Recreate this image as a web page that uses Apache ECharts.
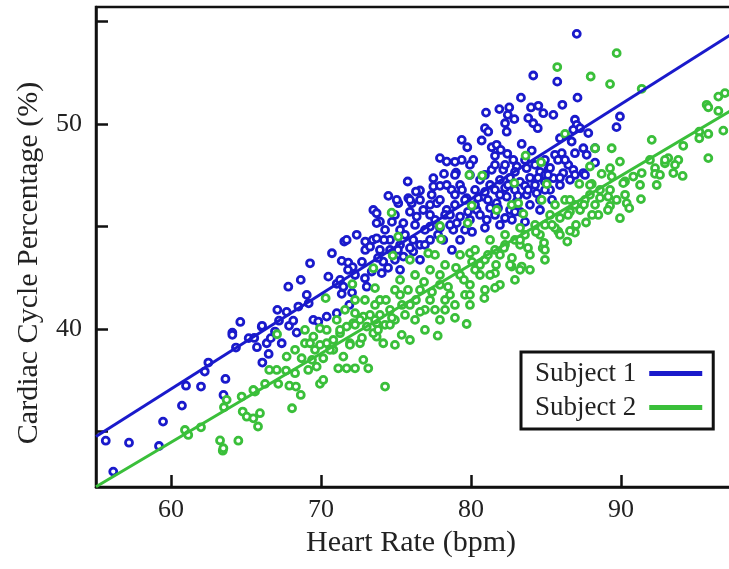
<!DOCTYPE html>
<html><head><meta charset="utf-8">
<script src="https://cdn.jsdelivr.net/npm/echarts@6/dist/echarts.min.js"></script>
<style>html,body{margin:0;padding:0;background:#fff}#c{width:729px;height:569px}</style>
</head><body><div id="c"></div>
<script>
const xTicks = [60, 70, 80, 90];
const yTicks = [35, 40, 45, 50, 55];
const yLabels = [40, 50];
const seriesNames = ['Subject 1', 'Subject 2'];
const fitX = [55, 100];
const fit1 = [34.75, 55.6];
const fit2 = [32.3, 51.81];
const subject1 = [
[55.65,34.55],[57.2,34.45],[59.2,34.29],[56.15,33.04],[59.47,35.48],[60.73,36.26],[61.0,37.23],[62.0,37.19],[63.5,36.78],[63.63,37.56],[62.25,37.92],[62.49,38.36],[64.33,39.09],[64.09,39.82],[64.09,39.71],[64.62,40.34],[65.18,39.55],[65.55,39.56],[65.73,39.11],[66.05,40.10],[66.09,38.36],[66.38,39.30],[66.51,38.78],[66.65,39.55],[66.93,39.87],[67.09,40.93],[67.2,40.40],[67.38,39.30],[67.71,40.83],[67.82,42.06],[67.87,40.15],[68.15,40.40],[68.38,39.82],[68.49,41.09],[68.65,42.39],[69.05,41.66],[69.18,41.25],[69.27,43.20],[69.49,40.44],[69.82,40.36],[70.38,40.6],[70.49,42.55],[66.07,40.15],[70.73,43.69],[71.05,42.2],[71.38,41.71],[71.49,42.06],[71.38,43.32],[71.55,44.26],[71.71,44.34],[71.82,43.23],[72.11,43.01],[71.89,41.17],[72.38,44.59],[72.95,44.26],[72.95,43.85],[73.27,44.01],[73.45,44.34],[73.71,44.42],[73.49,45.80],[73.71,45.64],[72.93,42.47],[73.05,42.06],[73.93,45.23],[72.07,41.77],[71.05,40.77],
[84.15,52.36],[83.33,51.28],[81.0,50.55],[81.89,50.72],[82.55,50.80],[82.45,50.44],[82.89,50.23],[82.27,50.03],[82.38,49.62],[84.0,50.80],[84.49,50.88],[84.82,50.52],[83.82,50.28],[84.15,50.03],[84.45,49.79],[80.93,49.79],[81.15,49.62],[80.71,49.19],[81.38,48.86],[81.71,48.98],[81.98,48.73],[81.6,48.44],[82.42,48.54],[83.38,49.02],[84.05,48.70],[79.38,49.22],[79.75,48.86],[77.93,48.33],[78.38,48.16],[79.38,48.24],[80.15,48.24],[79.0,47.62],[78.2,47.56],[77.49,47.35],[75.78,47.19],[77.49,46.95],[77.93,46.98],[78.38,47.02],[78.71,46.78],[76.6,46.75],[76.33,46.70],[74.49,46.49],[75.82,46.38],[76.05,46.13],[75.15,46.13],[77.38,46.54],[81.38,47.76],[82.15,47.76],[82.82,48.24],[83.05,47.92],[83.71,47.84],
[73.71,45.16],[73.38,42.80],[74.15,43.28],[74.05,42.72],[75.05,46.29],[75.93,46.29],[76.38,45.48],[75.49,45.16],[76.15,44.34],[75.49,43.53],[76.15,43.77],[74.6,43.85],[75.27,42.88],[76.82,45.80],[77.71,46.13],[78.38,45.80],[79.27,45.48],[78.82,44.83],[77.27,44.99],[78.15,44.34],[79.71,46.38],[80.38,45.80],[81.05,45.32],[80.82,46.45],[81.71,46.13],[82.38,46.45],[83.05,46.21],[83.71,46.54],[84.38,46.62],[79.05,45.16],
[87.05,54.39],[85.75,52.06],[87.1,51.28],[86.09,50.93],[85.49,50.44],[89.93,50.36],[89.7,49.84],[86.93,50.20],[87.05,49.95],[87.27,49.79],[86.82,49.71],[87.82,49.55],[85.93,49.30],[86.71,49.14],[87.49,48.81],[85.6,48.49],[86.05,48.57],[86.93,48.57],[87.71,48.49],[88.27,48.81],[88.27,48.11],[86.49,48.0],[86.82,47.76],[87.49,47.60],[85.15,47.76],[85.49,47.35],[84.82,48.16],[86.15,47.60],
[79.93,47.51],[80.6,47.27],[81.27,47.02],[81.93,47.27],[82.6,47.37],[83.27,47.17],[83.93,47.37],[84.6,47.66],[85.27,47.85],[80.27,46.78],[80.93,46.68],[81.6,46.78],[82.27,46.88],[82.93,46.78],[83.6,46.98],[84.27,47.02],[84.93,47.17],[79.27,47.02],[79.6,46.29],[80.27,46.05],[81.27,45.90],[81.93,46.54],[82.6,45.80],[83.27,45.71],[83.93,46.05],[84.6,46.29],[85.27,46.78],[78.93,46.05],[78.27,45.56],[77.6,45.32],[76.93,44.83],[76.6,44.10],[77.27,44.34],[77.93,44.93],[78.6,45.56],[79.6,44.83],[79.93,45.32],[80.6,45.56],[81.6,45.56],[82.27,45.41],[82.93,45.71],[78.93,46.54],[77.93,46.29],[77.27,46.05],[74.93,45.56],[74.27,44.83],[74.6,44.34],[75.6,44.59],[76.27,45.07],[73.93,43.85],[74.93,43.37],[76.6,43.37],[75.27,44.10],[84.93,47.51],[85.93,47.37],[86.93,47.51],[87.6,47.51],[84.93,46.78],
[78.93,47.51],[79.4,46.78],[79.8,45.71],[80.47,46.39],[81.13,46.29],[81.8,45.90],[82.47,47.02],[83.13,46.49],[83.8,46.78],[84.47,47.37],[85.13,47.51],[85.8,48.24],[78.6,45.07],[79.27,44.34],[80.07,44.73],[80.93,44.93],[81.93,45.07],[82.73,45.32],[83.6,45.22],[84.6,45.80],[85.4,46.29],[77.27,45.56],[76.6,46.29],[75.93,45.71],[75.27,44.83],[74.73,45.22],[74.2,44.34],[73.8,43.46],[74.47,42.98],[75.13,43.85],[75.93,43.95],[76.93,44.10],[77.8,44.59],[78.73,43.85],[72.73,43.27],[72.27,42.63],[71.8,42.88],[71.27,42.39],[85.93,47.02],[86.6,47.27],[86.27,48.24],[84.93,48.24],[84.27,48.0],[83.6,48.24],[82.93,47.66],[82.27,48.0],[81.6,48.0],[80.93,47.51],[79.93,48.0],[78.93,48.15]
];
const subject2 = [
[60.93,35.07],[61.15,34.83],[62.0,35.2],[63.27,34.56],[63.45,34.06],[63.49,34.18],[64.49,34.55],[64.78,35.97],[65.05,35.72],[65.49,35.64],[65.93,35.89],[65.8,35.24],[63.71,36.54],[63.53,36.18],[64.71,36.70],[65.6,36.94],[66.27,37.32],[67.15,37.32],[67.89,37.23],[68.33,37.19],[68.65,36.78],[68.07,36.13],[69.93,37.32],[65.49,37.02],[66.55,38.0],[67.05,38.0],[67.67,37.97],[68.27,37.84],[67.71,38.65],[68.27,38.98],[68.71,38.57],[69.15,38.0],[69.71,38.16],[70.15,37.51],[68.93,39.30],[69.49,39.62],[69.6,38.98],[70.15,38.57],[69.93,40.03],[70.38,39.95],[70.82,39.46],[71.27,39.79],[71.05,40.44],[71.71,40.11],[72.15,40.28],[72.27,40.77],[72.82,40.6],[73.05,40.11],[72.6,39.30],[71.93,39.30],[71.49,38.65],[71.15,38.08],[71.71,38.08],[72.27,38.08],[72.82,38.49],[73.15,38.08],[73.71,39.62],[73.6,41.17],[73.71,40.28],[70.38,39.30],[69.27,39.30],[70.82,38.98],[74.27,37.19],
[80.89,41.5],[79.71,40.24],[77.78,39.67],[75.38,39.71],[73.6,41.99],[73.49,39.79],[74.15,39.30],[84.71,46.29],[83.49,45.61],[83.38,43.04],[82.71,43.04],[81.6,42.72],[79.93,43.69],[74.71,45.67],[75.15,44.50],[74.78,43.58],[73.49,42.96],[77.93,45.02],[78.0,44.38],[77.15,43.69],[79.78,45.16],[80.05,46.01],[81.71,45.80],[82.71,46.05],[83.15,46.13],[72.09,42.18],[70.31,41.5],[67.07,39.74],[83.64,48.45],[84.67,48.13],[79.89,47.51],[80.75,47.48],[82.89,47.11],[85.05,47.06],
[89.71,53.45],[85.75,52.77],[87.98,52.31],[89.27,51.94],[91.38,51.71],[86.27,49.51],[88.27,48.81],[89.38,48.81],[89.93,48.16],[92.05,49.22],[94.15,48.93],[95.71,50.93],[95.82,50.81],[96.49,51.33],[96.93,51.5],[96.49,50.63],[96.82,49.67],[95.82,49.51],[95.22,49.62],[95.22,49.30],[95.82,48.33],[93.15,48.33],[92.93,48.08],[93.82,48.24],[92.27,47.84],[92.27,47.56],[93.49,47.60],[94.11,47.46],[91.38,47.60],[90.82,47.43],[90.27,47.19],[89.27,47.84],[89.38,47.43],[88.71,47.56],[87.93,47.92],[87.22,47.07],[88.05,47.07],[92.38,47.02],
[91.33,46.33],[90.38,46.13],[90.55,45.89],[89.93,45.40],[89.71,46.29],[89.15,46.45],[89.27,46.0],[88.49,45.56],[87.67,45.19],[86.93,44.70],[86.6,44.78],[86.42,44.26],[84.78,43.94],[85.82,44.75],[90.15,47.11],
[85.6,46.05],[86.27,46.29],[86.93,46.05],[87.6,46.29],[85.27,45.56],[85.93,45.41],[86.6,45.71],[87.27,45.80],[87.93,46.54],[88.6,46.78],[84.93,45.07],[85.6,44.93],[88.27,46.05],
[73.93,41.41],[74.6,40.93],[75.27,41.66],[75.93,41.17],[76.6,41.90],[77.27,41.41],[77.93,42.15],[78.6,41.66],[79.27,42.63],[79.93,42.15],[80.6,43.12],[81.27,42.63],[81.93,43.61],[82.6,43.12],[83.27,44.10],[83.93,43.61],[84.6,44.59],[74.27,40.20],[74.93,40.44],[75.6,40.68],[76.27,40.44],[76.93,40.93],[77.6,40.93],[78.27,41.41],[78.93,41.17],[79.6,41.66],[80.27,42.88],[80.93,43.37],[81.6,43.85],[82.27,44.10],[82.93,44.34],[83.6,44.59],[84.27,45.07],[75.27,42.39],[76.27,42.63],[77.27,42.88],[78.27,43.12],[79.27,43.61],[80.27,43.85],[81.27,44.34],[82.27,44.59],[83.27,44.93],[74.93,39.22],[75.93,39.46],[76.93,39.95],[77.93,40.44],[78.93,40.54],[79.93,41.17],[80.93,41.90],[81.93,42.15],[82.93,42.39],[83.93,42.88],[84.93,43.37],[72.6,40.44],[72.93,41.41],[72.27,41.41],[71.6,40.93],[75.93,43.37],[77.6,43.61],[73.93,40.68],[74.6,40.20],[73.6,40.44],
[71.27,39.95],[71.93,39.22],[72.27,40.20],[72.73,39.56],[73.27,40.68],[73.8,39.95],[74.33,41.41],[74.73,40.54],[75.4,41.17],[75.8,41.90],[76.33,41.41],[76.87,42.29],[77.4,41.80],[77.93,42.63],[78.47,42.05],[79.0,42.98],[79.53,42.39],[80.07,43.27],[80.6,42.63],[81.13,43.61],[81.67,43.12],[82.2,43.95],[82.73,43.46],[83.27,44.34],[83.8,43.95],[84.33,44.73],[84.87,44.20],[85.4,45.07],[85.93,44.59],[86.47,45.56],[87.0,45.07],[87.53,46.05],[88.07,45.56],[88.6,46.39],[89.13,45.80],[70.6,38.98],[69.93,39.22],[69.4,38.49],[68.93,39.95],[74.93,41.90],[76.6,40.83],[78.27,40.93],[79.93,41.66],[81.6,42.0],[83.27,42.88],[84.93,43.85],[86.6,46.29],[87.93,47.02],[89.27,46.78],[90.27,46.54],[91.27,47.02],[92.6,47.51],[93.6,48.0],[92.93,48.24],[91.93,48.24]
];

const BLUE = '#1a1acb', GREEN = '#3abf3a';
const FONT = 'Liberation Serif';
const chart = echarts.init(document.getElementById('c'));
chart.setOption({
  animation: false,
  backgroundColor: '#fff',
  grid: { left: 96, top: 7, width: 675, height: 480, outerBoundsMode: 'none', containLabel: false,
          show: true, borderColor: '#111', borderWidth: 2.5 },
  xAxis: {
    type: 'value', min: 55, max: 100,
    name: 'Heart Rate (bpm)', nameLocation: 'middle', nameGap: 40,
    nameTextStyle: { fontFamily: FONT, fontSize: 30, color: '#222', padding: [0, 45, 0, 0] },
    axisLine: { show: true, lineStyle: { color: '#111', width: 2.5 } },
    axisTick: { show: true, inside: true, length: 12, customValues: xTicks, lineStyle: { color: '#111', width: 2.5 } },
    axisLabel: { customValues: xTicks, margin: 10, fontFamily: FONT, fontSize: 26, color: '#222' },
    splitLine: { show: false }
  },
  yAxis: {
    type: 'value', min: 32.29, max: 55.7,
    name: 'Cardiac Cycle Percentage (%)', nameLocation: 'middle', nameGap: 52,
    nameTextStyle: { fontFamily: FONT, fontSize: 30, color: '#222', padding: [0, 32, 0, 0] },
    axisLine: { show: true, lineStyle: { color: '#111', width: 2.5 } },
    axisTick: { show: true, inside: true, length: 12, customValues: yTicks, lineStyle: { color: '#111', width: 2.5 } },
    axisLabel: { customValues: yLabels, margin: 14, fontFamily: FONT, fontSize: 26, color: '#222' },
    splitLine: { show: false }
  },
  legend: {
    data: [{ name: seriesNames[0], icon: 'rect' }, { name: seriesNames[1], icon: 'rect' }],
    orient: 'vertical', left: 521, top: 352, align: 'right',
    itemWidth: 53, itemHeight: 5, itemGap: 7,
    padding: [8, 11, 8, 14],
    backgroundColor: '#fff', borderColor: '#111', borderWidth: 3,
    textStyle: { fontFamily: FONT, fontSize: 27, color: '#222', padding: [0, 8, 0, 0] }
  },
  series: [
    { type: 'scatter', name: 's1pts', data: subject1, symbol: 'circle', symbolSize: 7,
      itemStyle: { color: '#fff', borderColor: BLUE, borderWidth: 2.8, opacity: 1 }, z: 2 },
    { type: 'scatter', name: 's2pts', data: subject2, symbol: 'circle', symbolSize: 7,
      itemStyle: { color: '#fff', borderColor: GREEN, borderWidth: 2.8, opacity: 1 }, z: 3 },
    { type: 'line', name: seriesNames[0], data: fitX.map((x, i) => [x, fit1[i]]), showSymbol: false,
      lineStyle: { color: BLUE, width: 3 }, itemStyle: { color: BLUE }, z: 4 },
    { type: 'line', name: seriesNames[1], data: fitX.map((x, i) => [x, fit2[i]]), showSymbol: false,
      lineStyle: { color: GREEN, width: 3 }, itemStyle: { color: GREEN }, z: 4 }
  ]
});
</script></body></html>
